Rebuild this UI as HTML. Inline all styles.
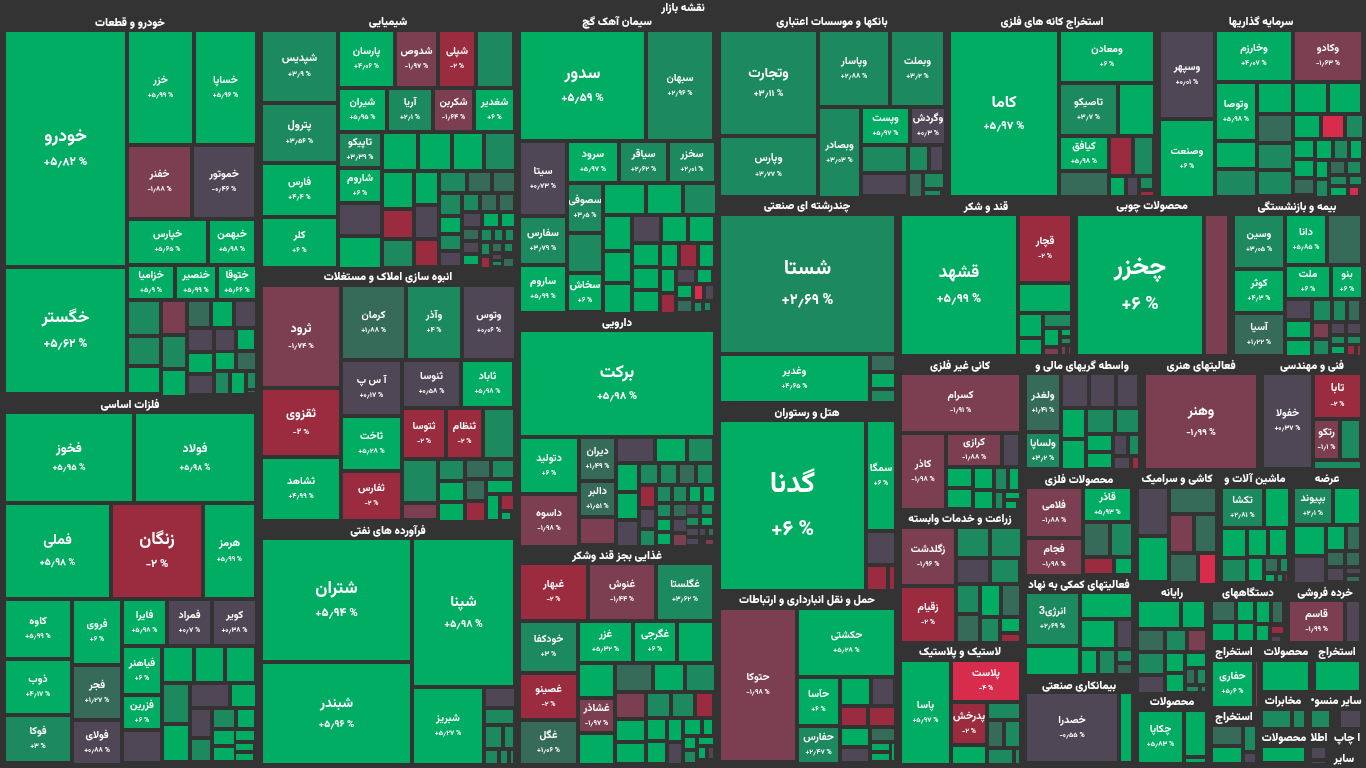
<!DOCTYPE html><html lang="fa"><head><meta charset="utf-8"><title>نقشه بازار</title><style>
html,body{margin:0;padding:0;background:#333333;}
body{width:1366px;height:768px;position:relative;overflow:hidden;font-family:"Vazirmatn", "DejaVu Sans", sans-serif;color:#fff;}
.r{position:absolute;display:flex;flex-direction:column;align-items:center;justify-content:center;overflow:hidden;}
.n{font-weight:700;white-space:nowrap;line-height:1.15;}
.p{font-weight:800;white-space:nowrap;direction:ltr;unicode-bidi:isolate;line-height:1.2;}
.t{position:absolute;font-weight:900;font-size:11px;white-space:nowrap;line-height:1;transform:translate(-50%,-50%);direction:rtl;}

.G6{background:#01ad63;}
.G3{background:#1c895e;}
.G1{background:#356b58;}
.N{background:#4f4755;}
.R1{background:#7c3e51;}
.R2{background:#9b2c40;}
.R4{background:#d72c4c;}
</style></head><body>
<div class="t" style="left:683px;top:8px;font-size:11px">نقشه بازار</div>
<div class="t" style="left:130px;top:22.5px;font-size:11px">خودرو و قطعات</div>
<div class="t" style="left:130px;top:405px;font-size:11px">فلزات اساسی</div>
<div class="t" style="left:388px;top:22px;font-size:11px">شیمیایی</div>
<div class="t" style="left:388px;top:277px;font-size:11px">انبوه سازی املاک و مستغلات</div>
<div class="t" style="left:388px;top:531px;font-size:11px">فرآورده های نفتی</div>
<div class="t" style="left:617px;top:22px;font-size:11px">سیمان آهک گچ</div>
<div class="t" style="left:617px;top:323px;font-size:11px">دارویی</div>
<div class="t" style="left:617px;top:556px;font-size:11px">غذایی بجز قند وشکر</div>
<div class="t" style="left:832px;top:22px;font-size:11px">بانکها و موسسات اعتباری</div>
<div class="t" style="left:807px;top:206.3px;font-size:11px">چندرشته ای صنعتی</div>
<div class="t" style="left:807px;top:413px;font-size:11px">هتل و رستوران</div>
<div class="t" style="left:807px;top:600px;font-size:11px">حمل و نقل انبارداری و ارتباطات</div>
<div class="t" style="left:1052px;top:22px;font-size:11px">استخراج کانه های فلزی</div>
<div class="t" style="left:1261px;top:22px;font-size:11px">سرمایه گذاریها</div>
<div class="t" style="left:986px;top:207px;font-size:11px">قند و شکر</div>
<div class="t" style="left:1152px;top:205.5px;font-size:11px">محصولات چوبی</div>
<div class="t" style="left:1297px;top:207px;font-size:11px">بیمه و بازنشستگی</div>
<div class="t" style="left:960px;top:366px;font-size:11px">کانی غیر فلزی</div>
<div class="t" style="left:1082px;top:366px;font-size:11px">واسطه گریهای مالی و</div>
<div class="t" style="left:1201px;top:366px;font-size:11px">فعالیتهای هنری</div>
<div class="t" style="left:1312px;top:366px;font-size:11px">فنی و مهندسی</div>
<div class="t" style="left:960px;top:519.3px;font-size:11px">زراعت و خدمات وابسته</div>
<div class="t" style="left:960px;top:652px;font-size:11px">لاستیک و پلاستیک</div>
<div class="t" style="left:1079px;top:480px;font-size:11px">محصولات فلزی</div>
<div class="t" style="left:1079px;top:585px;font-size:11px">فعالیتهای کمکی به نهاد</div>
<div class="t" style="left:1079px;top:686px;font-size:11px">بیمانکاری صنعتی</div>
<div class="t" style="left:1177px;top:479px;font-size:11px">کاشی و سرامیک</div>
<div class="t" style="left:1255px;top:479px;font-size:11px">ماشین آلات و</div>
<div class="t" style="left:1327px;top:479px;font-size:11px">عرضه</div>
<div class="t" style="left:1172px;top:593px;font-size:11px">رایانه</div>
<div class="t" style="left:1248px;top:593px;font-size:11px">دستگاههای</div>
<div class="t" style="left:1325px;top:593px;font-size:11px">خرده فروشی</div>
<div class="t" style="left:1172px;top:702px;font-size:11px">محصولات</div>
<div class="t" style="left:1234px;top:652px;font-size:11px">استخراج</div>
<div class="t" style="left:1286px;top:652px;font-size:11px">محصولات</div>
<div class="t" style="left:1337px;top:652px;font-size:11px">استخراج</div>
<div class="t" style="left:1234px;top:717px;font-size:11px">استخراج</div>
<div class="t" style="left:1283px;top:701px;font-size:11px">مخابرات</div>
<div class="t" style="left:1336px;top:701px;font-size:11px">سایر منسو•</div>
<div class="t" style="left:1284px;top:738px;font-size:11px">محصولات</div>
<div class="t" style="left:1319px;top:738px;font-size:11px">اطلا</div>
<div class="t" style="left:1347px;top:738px;font-size:11px">ا چاپ</div>
<div class="t" style="left:1344px;top:759px;font-size:11px">سایر</div>
<div class="r G6" style="left:6px;top:32px;width:119px;height:233px"><div class="n" style="font-size:17.5px">خودرو</div><div class="p" style="font-size:11.5px;margin-top:8.8px">+۵٫۸۲ %</div></div>
<div class="r G6" style="left:6px;top:269px;width:119px;height:123px"><div class="n" style="font-size:17px">خگستر</div><div class="p" style="font-size:12px;margin-top:8.5px">+۵٫۶۲ %</div></div>
<div class="r G6" style="left:129px;top:32px;width:63px;height:111px"><div class="n" style="font-size:10.5px">خزر</div><div class="p" style="font-size:7.1px;margin-top:5.2px">+۵٫۹۹ %</div></div>
<div class="r G6" style="left:196px;top:32px;width:59px;height:111px"><div class="n" style="font-size:10.4px">خساپا</div><div class="p" style="font-size:7px;margin-top:5.2px">+۵٫۹۶ %</div></div>
<div class="r R1" style="left:129px;top:147px;width:61px;height:70px"><div class="n" style="font-size:10.4px">خفنر</div><div class="p" style="font-size:7px;margin-top:5.2px">-۱٫۸۸ %</div></div>
<div class="r N" style="left:194px;top:147px;width:60px;height:70px"><div class="n" style="font-size:10.4px">خموتور</div><div class="p" style="font-size:7px;margin-top:5.2px">-۰٫۴۶ %</div></div>
<div class="r G6" style="left:129px;top:221px;width:77px;height:42px"><div class="n" style="font-size:10.4px">خپارس</div><div class="p" style="font-size:7px;margin-top:5.2px">+۵٫۶۵ %</div></div>
<div class="r G6" style="left:210px;top:221px;width:44px;height:42px"><div class="n" style="font-size:10.4px">خبهمن</div><div class="p" style="font-size:7px;margin-top:5.2px">+۵٫۹۸ %</div></div>
<div class="r G6" style="left:129px;top:267px;width:44px;height:31px"><div class="n" style="font-size:10.4px">خزامیا</div><div class="p" style="font-size:7px;margin-top:5.2px">+۵٫۹ %</div></div>
<div class="r G6" style="left:177px;top:267px;width:38px;height:31px"><div class="n" style="font-size:10.4px">خنصیر</div><div class="p" style="font-size:7px;margin-top:5.2px">+۵٫۹۹ %</div></div>
<div class="r G6" style="left:219px;top:267px;width:36px;height:31px"><div class="n" style="font-size:10.4px">ختوقا</div><div class="p" style="font-size:7px;margin-top:5.2px">+۵٫۶۶ %</div></div>
<div class="r G3" style="left:129px;top:302px;width:30px;height:32px"></div>
<div class="r G3" style="left:129px;top:338px;width:30px;height:26px"></div>
<div class="r G6" style="left:129px;top:368px;width:30px;height:24px"></div>
<div class="r R1" style="left:163px;top:302px;width:22px;height:31px"></div>
<div class="r G3" style="left:163px;top:337px;width:22px;height:30px"></div>
<div class="r G6" style="left:163px;top:371px;width:22px;height:24px"></div>
<div class="r G1" style="left:189px;top:302px;width:20px;height:24px"></div>
<div class="r G6" style="left:213px;top:302px;width:19px;height:24px"></div>
<div class="r N" style="left:236px;top:302px;width:19px;height:24px"></div>
<div class="r N" style="left:189px;top:330px;width:23px;height:20px"></div>
<div class="r N" style="left:216px;top:330px;width:18px;height:20px"></div>
<div class="r G6" style="left:238px;top:330px;width:16px;height:19px"></div>
<div class="r G6" style="left:189px;top:354px;width:23px;height:18px"></div>
<div class="r G6" style="left:216px;top:353px;width:18px;height:16px"></div>
<div class="r G1" style="left:238px;top:353px;width:17px;height:16px"></div>
<div class="r N" style="left:189px;top:376px;width:23px;height:17px"></div>
<div class="r G3" style="left:216px;top:373px;width:12px;height:20px"></div>
<div class="r G6" style="left:232px;top:373px;width:12px;height:20px"></div>
<div class="r G3" style="left:248px;top:373px;width:7px;height:15px"></div>
<div class="r G1" style="left:248px;top:391px;width:7px;height:1px"></div>
<div class="r G6" style="left:6px;top:414px;width:126px;height:87px"><div class="n" style="font-size:13.2px">فخوز</div><div class="p" style="font-size:8.9px;margin-top:6.6px">+۵٫۹۵ %</div></div>
<div class="r G6" style="left:136px;top:414px;width:118px;height:87px"><div class="n" style="font-size:12.4px">فولاد</div><div class="p" style="font-size:8.3px;margin-top:6.2px">+۵٫۹۸ %</div></div>
<div class="r G6" style="left:6px;top:505px;width:103px;height:92px"><div class="n" style="font-size:14.2px">فملی</div><div class="p" style="font-size:9.7px;margin-top:7.1px">+۵٫۹۸ %</div></div>
<div class="r R2" style="left:113px;top:505px;width:88px;height:92px"><div class="n" style="font-size:17.1px">زنگان</div><div class="p" style="font-size:11.2px;margin-top:8.6px">-۲ %</div></div>
<div class="r G6" style="left:205px;top:505px;width:49px;height:92px"><div class="n" style="font-size:10.8px">هرمز</div><div class="p" style="font-size:6.9px;margin-top:5.4px">+۵٫۹۹ %</div></div>
<div class="r G6" style="left:6px;top:601px;width:64px;height:56px"><div class="n" style="font-size:10.4px">کاوه</div><div class="p" style="font-size:7px;margin-top:5.2px">+۵٫۹۹ %</div></div>
<div class="r G6" style="left:74px;top:601px;width:46px;height:62px"><div class="n" style="font-size:10.4px">فروی</div><div class="p" style="font-size:7px;margin-top:5.2px">+۶ %</div></div>
<div class="r G6" style="left:124px;top:601px;width:41px;height:43px"><div class="n" style="font-size:10.4px">فایرا</div><div class="p" style="font-size:7px;margin-top:5.2px">+۵٫۹۸ %</div></div>
<div class="r N" style="left:169px;top:601px;width:41px;height:43px"><div class="n" style="font-size:10.4px">فمراد</div><div class="p" style="font-size:7px;margin-top:5.2px">+۰٫۷ %</div></div>
<div class="r N" style="left:214px;top:601px;width:41px;height:43px"><div class="n" style="font-size:10.4px">کویر</div><div class="p" style="font-size:7px;margin-top:5.2px">+۰٫۳۸ %</div></div>
<div class="r G6" style="left:6px;top:661px;width:64px;height:52px"><div class="n" style="font-size:10.4px">ذوب</div><div class="p" style="font-size:7px;margin-top:5.2px">+۴٫۱۷ %</div></div>
<div class="r G3" style="left:6px;top:717px;width:64px;height:44px"><div class="n" style="font-size:10.4px">فوکا</div><div class="p" style="font-size:7px;margin-top:5.2px">+۳ %</div></div>
<div class="r G1" style="left:74px;top:667px;width:46px;height:51px"><div class="n" style="font-size:10.4px">فجر</div><div class="p" style="font-size:7px;margin-top:5.2px">+۱٫۲۷ %</div></div>
<div class="r N" style="left:74px;top:722px;width:46px;height:41px"><div class="n" style="font-size:10.4px">فولای</div><div class="p" style="font-size:7px;margin-top:5.2px">+۰٫۸۸ %</div></div>
<div class="r G6" style="left:124px;top:648px;width:36px;height:45px"><div class="n" style="font-size:10.4px">فیاهنر</div><div class="p" style="font-size:7px;margin-top:5.2px">+۶ %</div></div>
<div class="r G6" style="left:124px;top:697px;width:36px;height:31px"><div class="n" style="font-size:10.4px">فزرین</div><div class="p" style="font-size:7px;margin-top:5.2px">+۶ %</div></div>
<div class="r N" style="left:124px;top:732px;width:36px;height:29px"></div>
<div class="r G6" style="left:164px;top:648px;width:28px;height:33px"></div>
<div class="r G6" style="left:196px;top:648px;width:27px;height:33px"></div>
<div class="r G6" style="left:227px;top:648px;width:27px;height:33px"></div>
<div class="r G3" style="left:164px;top:685px;width:24px;height:37px"></div>
<div class="r G6" style="left:164px;top:726px;width:24px;height:34px"></div>
<div class="r N" style="left:192px;top:685px;width:36px;height:21px"></div>
<div class="r G6" style="left:232px;top:685px;width:23px;height:21px"></div>
<div class="r N" style="left:192px;top:710px;width:18px;height:26px"></div>
<div class="r G3" style="left:192px;top:740px;width:18px;height:20px"></div>
<div class="r G3" style="left:214px;top:710px;width:20px;height:17px"></div>
<div class="r G6" style="left:238px;top:710px;width:16px;height:17px"></div>
<div class="r G6" style="left:214px;top:731px;width:20px;height:13px"></div>
<div class="r G6" style="left:236px;top:731px;width:18px;height:9px"></div>
<div class="r G6" style="left:214px;top:748px;width:20px;height:12px"></div>
<div class="r G6" style="left:236px;top:744px;width:17px;height:6px"></div>
<div class="r G6" style="left:236px;top:754px;width:17px;height:6px"></div>
<div class="r G3" style="left:263px;top:32px;width:73px;height:69px"><div class="n" style="font-size:10.9px">شپدیس</div><div class="p" style="font-size:7.2px;margin-top:5.5px">+۳٫۹ %</div></div>
<div class="r G3" style="left:263px;top:105px;width:73px;height:56px"><div class="n" style="font-size:11px">پترول</div><div class="p" style="font-size:7.2px;margin-top:5.5px">+۳٫۵۶ %</div></div>
<div class="r G6" style="left:263px;top:165px;width:73px;height:50px"><div class="n" style="font-size:10.4px">فارس</div><div class="p" style="font-size:7px;margin-top:5.2px">+۴٫۴ %</div></div>
<div class="r G6" style="left:263px;top:219px;width:73px;height:47px"><div class="n" style="font-size:10.4px">کلر</div><div class="p" style="font-size:7px;margin-top:5.2px">+۶ %</div></div>
<div class="r G6" style="left:340px;top:32px;width:53px;height:54px"><div class="n" style="font-size:10.4px">پارسان</div><div class="p" style="font-size:7px;margin-top:5.2px">+۴٫۰۶ %</div></div>
<div class="r R1" style="left:397px;top:32px;width:39px;height:54px"><div class="n" style="font-size:10.4px">شدوص</div><div class="p" style="font-size:7px;margin-top:5.2px">-۱٫۹۷ %</div></div>
<div class="r R2" style="left:440px;top:32px;width:34px;height:54px"><div class="n" style="font-size:10.4px">شپلی</div><div class="p" style="font-size:7px;margin-top:5.2px">-۲ %</div></div>
<div class="r G3" style="left:478px;top:32px;width:34px;height:54px"></div>
<div class="r G6" style="left:340px;top:90px;width:45px;height:40px"><div class="n" style="font-size:10.4px">شیران</div><div class="p" style="font-size:7px;margin-top:5.2px">+۵٫۹۵ %</div></div>
<div class="r G3" style="left:389px;top:90px;width:42px;height:40px"><div class="n" style="font-size:10.4px">آریا</div><div class="p" style="font-size:7px;margin-top:5.2px">+۲٫۱ %</div></div>
<div class="r R1" style="left:435px;top:90px;width:37px;height:40px"><div class="n" style="font-size:10.4px">شکربن</div><div class="p" style="font-size:7px;margin-top:5.2px">-۱٫۶۴ %</div></div>
<div class="r G6" style="left:476px;top:90px;width:37px;height:40px"><div class="n" style="font-size:10.4px">شغدیر</div><div class="p" style="font-size:7px;margin-top:5.2px">+۶ %</div></div>
<div class="r G3" style="left:340px;top:134px;width:40px;height:32px"><div class="n" style="font-size:10.4px">تاپیکو</div><div class="p" style="font-size:7px;margin-top:5.2px">+۳٫۳۹ %</div></div>
<div class="r G6" style="left:384px;top:134px;width:32px;height:35px"></div>
<div class="r G6" style="left:420px;top:134px;width:30px;height:35px"></div>
<div class="r G6" style="left:454px;top:134px;width:28px;height:35px"></div>
<div class="r G3" style="left:486px;top:134px;width:28px;height:35px"></div>
<div class="r G6" style="left:340px;top:170px;width:40px;height:31px"><div class="n" style="font-size:10.4px">شاروم</div><div class="p" style="font-size:7px;margin-top:5.2px">+۶ %</div></div>
<div class="r G6" style="left:384px;top:173px;width:28px;height:34px"></div>
<div class="r G6" style="left:416px;top:173px;width:21px;height:30px"></div>
<div class="r G3" style="left:441px;top:173px;width:24px;height:18px"></div>
<div class="r G1" style="left:469px;top:173px;width:21px;height:18px"></div>
<div class="r G1" style="left:494px;top:173px;width:20px;height:18px"></div>
<div class="r N" style="left:340px;top:205px;width:40px;height:29px"></div>
<div class="r G6" style="left:340px;top:238px;width:40px;height:29px"></div>
<div class="r R2" style="left:384px;top:211px;width:28px;height:26px"></div>
<div class="r N" style="left:416px;top:207px;width:21px;height:30px"></div>
<div class="r G3" style="left:384px;top:241px;width:28px;height:25px"></div>
<div class="r R2" style="left:416px;top:241px;width:21px;height:24px"></div>
<div class="r G3" style="left:441px;top:195px;width:19px;height:19px"></div>
<div class="r G3" style="left:464px;top:195px;width:14px;height:15px"></div>
<div class="r G1" style="left:482px;top:195px;width:14px;height:15px"></div>
<div class="r G1" style="left:500px;top:195px;width:13px;height:15px"></div>
<div class="r G6" style="left:441px;top:218px;width:19px;height:14px"></div>
<div class="r N" style="left:464px;top:214px;width:16px;height:12px"></div>
<div class="r G6" style="left:484px;top:214px;width:14px;height:12px"></div>
<div class="r G6" style="left:502px;top:214px;width:12px;height:12px"></div>
<div class="r G3" style="left:441px;top:236px;width:19px;height:13px"></div>
<div class="r G1" style="left:464px;top:230px;width:14px;height:9px"></div>
<div class="r G3" style="left:482px;top:230px;width:9px;height:10px"></div>
<div class="r G3" style="left:495px;top:230px;width:7px;height:10px"></div>
<div class="r G3" style="left:506px;top:230px;width:7px;height:10px"></div>
<div class="r N" style="left:464px;top:243px;width:14px;height:9px"></div>
<div class="r G3" style="left:482px;top:244px;width:7px;height:10px"></div>
<div class="r G1" style="left:493px;top:244px;width:8px;height:7px"></div>
<div class="r G3" style="left:505px;top:244px;width:7px;height:7px"></div>
<div class="r N" style="left:441px;top:253px;width:19px;height:12px"></div>
<div class="r G6" style="left:464px;top:256px;width:14px;height:8px"></div>
<div class="r R2" style="left:482px;top:258px;width:7px;height:9px"></div>
<div class="r N" style="left:493px;top:255px;width:8px;height:4px"></div>
<div class="r G3" style="left:493px;top:262px;width:8px;height:3px"></div>
<div class="r G1" style="left:504px;top:259px;width:9px;height:7px"></div>
<div class="r R1" style="left:263px;top:287px;width:76px;height:99px"><div class="n" style="font-size:12.5px">ثرود</div><div class="p" style="font-size:7.5px;margin-top:6.2px">-۱٫۷۴ %</div></div>
<div class="r R2" style="left:263px;top:390px;width:76px;height:65px"><div class="n" style="font-size:12.4px">ثقزوی</div><div class="p" style="font-size:8.1px;margin-top:6.2px">-۲ %</div></div>
<div class="r G6" style="left:263px;top:459px;width:76px;height:60px"><div class="n" style="font-size:10.4px">ثشاهد</div><div class="p" style="font-size:7px;margin-top:5.2px">+۴٫۹۹ %</div></div>
<div class="r G1" style="left:343px;top:287px;width:61px;height:71px"><div class="n" style="font-size:10.4px">کرمان</div><div class="p" style="font-size:7px;margin-top:5.2px">+۱٫۸۸ %</div></div>
<div class="r G3" style="left:408px;top:287px;width:52px;height:71px"><div class="n" style="font-size:10.4px">وآذر</div><div class="p" style="font-size:7px;margin-top:5.2px">+۴ %</div></div>
<div class="r N" style="left:464px;top:287px;width:50px;height:71px"><div class="n" style="font-size:10.4px">وتوس</div><div class="p" style="font-size:7px;margin-top:5.2px">+۰٫۰۶ %</div></div>
<div class="r N" style="left:343px;top:362px;width:57px;height:52px"><div class="n" style="font-size:10.4px">آ س پ</div><div class="p" style="font-size:7px;margin-top:5.2px">+۰٫۱۷ %</div></div>
<div class="r G6" style="left:343px;top:418px;width:57px;height:51px"><div class="n" style="font-size:10.4px">ثاخت</div><div class="p" style="font-size:7px;margin-top:5.2px">+۵٫۲۸ %</div></div>
<div class="r R2" style="left:343px;top:473px;width:57px;height:46px"><div class="n" style="font-size:10.4px">ثفارس</div><div class="p" style="font-size:7px;margin-top:5.2px">-۲ %</div></div>
<div class="r N" style="left:404px;top:362px;width:55px;height:44px"><div class="n" style="font-size:10.4px">ثنوسا</div><div class="p" style="font-size:7px;margin-top:5.2px">+۰٫۵۸ %</div></div>
<div class="r G6" style="left:463px;top:362px;width:49px;height:44px"><div class="n" style="font-size:10.4px">ثاباد</div><div class="p" style="font-size:7px;margin-top:5.2px">+۵٫۹۸ %</div></div>
<div class="r R2" style="left:404px;top:410px;width:40px;height:47px"><div class="n" style="font-size:10.4px">ثتوسا</div><div class="p" style="font-size:7px;margin-top:5.2px">-۲ %</div></div>
<div class="r R2" style="left:448px;top:410px;width:33px;height:47px"><div class="n" style="font-size:10.4px">ثنظام</div><div class="p" style="font-size:7px;margin-top:5.2px">-۲ %</div></div>
<div class="r G3" style="left:485px;top:410px;width:28px;height:47px"></div>
<div class="r G3" style="left:404px;top:461px;width:32px;height:40px"></div>
<div class="r R1" style="left:404px;top:505px;width:32px;height:13px"></div>
<div class="r G3" style="left:440px;top:461px;width:23px;height:18px"></div>
<div class="r G1" style="left:467px;top:461px;width:22px;height:16px"></div>
<div class="r G3" style="left:493px;top:461px;width:20px;height:16px"></div>
<div class="r G6" style="left:440px;top:483px;width:23px;height:17px"></div>
<div class="r G6" style="left:440px;top:504px;width:23px;height:16px"></div>
<div class="r G1" style="left:467px;top:481px;width:17px;height:18px"></div>
<div class="r R2" style="left:467px;top:503px;width:17px;height:17px"></div>
<div class="r G6" style="left:488px;top:481px;width:24px;height:11px"></div>
<div class="r G6" style="left:488px;top:496px;width:10px;height:23px"></div>
<div class="r R2" style="left:502px;top:496px;width:11px;height:13px"></div>
<div class="r G6" style="left:502px;top:513px;width:8px;height:6px"></div>
<div class="r G6" style="left:263px;top:540px;width:147px;height:120px"><div class="n" style="font-size:17.4px">شتران</div><div class="p" style="font-size:11.5px;margin-top:8.7px">+۵٫۹۴ %</div></div>
<div class="r G6" style="left:263px;top:664px;width:147px;height:99px"><div class="n" style="font-size:13.9px">شبندر</div><div class="p" style="font-size:9.8px;margin-top:7.0px">+۵٫۹۶ %</div></div>
<div class="r G6" style="left:414px;top:540px;width:99px;height:145px"><div class="n" style="font-size:15px">شپنا</div><div class="p" style="font-size:10.4px;margin-top:7.5px">+۵٫۹۸ %</div></div>
<div class="r G6" style="left:414px;top:689px;width:68px;height:74px"><div class="n" style="font-size:10.4px">شبریز</div><div class="p" style="font-size:7px;margin-top:5.2px">+۵٫۲۷ %</div></div>
<div class="r N" style="left:486px;top:689px;width:28px;height:17px"></div>
<div class="r G3" style="left:486px;top:710px;width:27px;height:13px"></div>
<div class="r G3" style="left:486px;top:727px;width:15px;height:20px"></div>
<div class="r G3" style="left:505px;top:727px;width:8px;height:20px"></div>
<div class="r G3" style="left:486px;top:751px;width:11px;height:12px"></div>
<div class="r G3" style="left:501px;top:751px;width:6px;height:12px"></div>
<div class="r G3" style="left:511px;top:751px;width:2px;height:12px"></div>
<div class="r G6" style="left:521px;top:32px;width:123px;height:107px"><div class="n" style="font-size:16.5px">سدور</div><div class="p" style="font-size:11.4px;margin-top:8.2px">+۵٫۵۹ %</div></div>
<div class="r G3" style="left:648px;top:32px;width:64px;height:107px"><div class="n" style="font-size:10.4px">سبهان</div><div class="p" style="font-size:7px;margin-top:5.2px">+۲٫۹۶ %</div></div>
<div class="r N" style="left:521px;top:143px;width:44px;height:71px"><div class="n" style="font-size:10.4px">سیتا</div><div class="p" style="font-size:7px;margin-top:5.2px">+۰٫۷۳ %</div></div>
<div class="r G6" style="left:569px;top:143px;width:48px;height:38px"><div class="n" style="font-size:10.4px">سرود</div><div class="p" style="font-size:7px;margin-top:5.2px">+۵٫۹۷ %</div></div>
<div class="r G3" style="left:621px;top:143px;width:45px;height:38px"><div class="n" style="font-size:10.4px">سیاقر</div><div class="p" style="font-size:7px;margin-top:5.2px">+۲٫۶۲ %</div></div>
<div class="r G3" style="left:670px;top:143px;width:44px;height:38px"><div class="n" style="font-size:10.4px">سخزر</div><div class="p" style="font-size:7px;margin-top:5.2px">+۲٫۰۱ %</div></div>
<div class="r G3" style="left:569px;top:185px;width:32px;height:46px"><div class="n" style="font-size:10.4px">سصوفی</div><div class="p" style="font-size:7px;margin-top:5.2px">+۳٫۵ %</div></div>
<div class="r G6" style="left:605px;top:185px;width:39px;height:28px"></div>
<div class="r G6" style="left:648px;top:185px;width:33px;height:28px"></div>
<div class="r G3" style="left:685px;top:185px;width:30px;height:28px"></div>
<div class="r G3" style="left:521px;top:218px;width:44px;height:45px"><div class="n" style="font-size:10.4px">سفارس</div><div class="p" style="font-size:7px;margin-top:5.2px">+۳٫۷۹ %</div></div>
<div class="r G6" style="left:521px;top:267px;width:44px;height:44px"><div class="n" style="font-size:10.4px">ساروم</div><div class="p" style="font-size:7px;margin-top:5.2px">+۵٫۹۹ %</div></div>
<div class="r G3" style="left:569px;top:235px;width:32px;height:36px"></div>
<div class="r G6" style="left:569px;top:275px;width:32px;height:35px"><div class="n" style="font-size:10.4px">سخاش</div><div class="p" style="font-size:7px;margin-top:5.2px">+۶ %</div></div>
<div class="r G6" style="left:605px;top:217px;width:25px;height:32px"></div>
<div class="r G6" style="left:605px;top:253px;width:25px;height:28px"></div>
<div class="r G6" style="left:605px;top:285px;width:25px;height:27px"></div>
<div class="r N" style="left:634px;top:217px;width:25px;height:24px"></div>
<div class="r G6" style="left:663px;top:217px;width:23px;height:24px"></div>
<div class="r G6" style="left:690px;top:217px;width:23px;height:24px"></div>
<div class="r G6" style="left:634px;top:245px;width:24px;height:20px"></div>
<div class="r G6" style="left:634px;top:269px;width:24px;height:19px"></div>
<div class="r G6" style="left:634px;top:292px;width:24px;height:19px"></div>
<div class="r G6" style="left:662px;top:245px;width:15px;height:21px"></div>
<div class="r R2" style="left:681px;top:245px;width:15px;height:21px"></div>
<div class="r G6" style="left:700px;top:245px;width:13px;height:21px"></div>
<div class="r G6" style="left:662px;top:270px;width:12px;height:21px"></div>
<div class="r N" style="left:678px;top:270px;width:16px;height:12px"></div>
<div class="r G6" style="left:698px;top:270px;width:13px;height:12px"></div>
<div class="r R2" style="left:662px;top:295px;width:12px;height:17px"></div>
<div class="r G6" style="left:678px;top:286px;width:13px;height:11px"></div>
<div class="r R4" style="left:695px;top:286px;width:7px;height:13px"></div>
<div class="r N" style="left:706px;top:286px;width:7px;height:13px"></div>
<div class="r G1" style="left:678px;top:301px;width:13px;height:10px"></div>
<div class="r G3" style="left:695px;top:303px;width:6px;height:8px"></div>
<div class="r G3" style="left:705px;top:303px;width:5px;height:7px"></div>
<div class="r G6" style="left:521px;top:332px;width:192px;height:103px"><div class="n" style="font-size:17.3px">برکت</div><div class="p" style="font-size:10.8px;margin-top:8.7px">+۵٫۹۸ %</div></div>
<div class="r G6" style="left:521px;top:439px;width:56px;height:53px"><div class="n" style="font-size:10.4px">دتولید</div><div class="p" style="font-size:7px;margin-top:5.2px">+۶ %</div></div>
<div class="r R1" style="left:521px;top:496px;width:56px;height:49px"><div class="n" style="font-size:10.4px">داسوه</div><div class="p" style="font-size:7px;margin-top:5.2px">-۱٫۹۸ %</div></div>
<div class="r G1" style="left:581px;top:439px;width:33px;height:40px"><div class="n" style="font-size:10.4px">دیران</div><div class="p" style="font-size:7px;margin-top:5.2px">+۱٫۴۹ %</div></div>
<div class="r G1" style="left:581px;top:483px;width:33px;height:32px"><div class="n" style="font-size:10.4px">دالبر</div><div class="p" style="font-size:7px;margin-top:5.2px">+۱٫۵۱ %</div></div>
<div class="r R1" style="left:581px;top:519px;width:33px;height:24px"></div>
<div class="r N" style="left:618px;top:439px;width:35px;height:22px"></div>
<div class="r G6" style="left:657px;top:439px;width:28px;height:22px"></div>
<div class="r G3" style="left:689px;top:439px;width:23px;height:22px"></div>
<div class="r G6" style="left:618px;top:465px;width:19px;height:25px"></div>
<div class="r G6" style="left:618px;top:494px;width:19px;height:24px"></div>
<div class="r N" style="left:618px;top:522px;width:19px;height:23px"></div>
<div class="r G3" style="left:641px;top:465px;width:16px;height:18px"></div>
<div class="r G3" style="left:661px;top:465px;width:15px;height:18px"></div>
<div class="r G1" style="left:680px;top:465px;width:14px;height:18px"></div>
<div class="r G3" style="left:698px;top:465px;width:14px;height:18px"></div>
<div class="r R2" style="left:641px;top:487px;width:13px;height:19px"></div>
<div class="r G3" style="left:658px;top:487px;width:12px;height:14px"></div>
<div class="r G3" style="left:674px;top:487px;width:12px;height:14px"></div>
<div class="r G6" style="left:690px;top:487px;width:10px;height:14px"></div>
<div class="r G6" style="left:704px;top:487px;width:10px;height:14px"></div>
<div class="r N" style="left:641px;top:510px;width:13px;height:17px"></div>
<div class="r G3" style="left:641px;top:531px;width:13px;height:14px"></div>
<div class="r G3" style="left:658px;top:505px;width:12px;height:11px"></div>
<div class="r G1" style="left:674px;top:505px;width:12px;height:11px"></div>
<div class="r N" style="left:687px;top:505px;width:11px;height:9px"></div>
<div class="r G3" style="left:702px;top:505px;width:10px;height:9px"></div>
<div class="r G6" style="left:658px;top:520px;width:12px;height:10px"></div>
<div class="r N" style="left:674px;top:520px;width:12px;height:11px"></div>
<div class="r G3" style="left:687px;top:518px;width:11px;height:7px"></div>
<div class="r G6" style="left:702px;top:518px;width:10px;height:7px"></div>
<div class="r G6" style="left:658px;top:534px;width:12px;height:10px"></div>
<div class="r R1" style="left:674px;top:535px;width:12px;height:10px"></div>
<div class="r N" style="left:687px;top:529px;width:11px;height:6px"></div>
<div class="r N" style="left:700px;top:529px;width:5px;height:6px"></div>
<div class="r G1" style="left:709px;top:529px;width:4px;height:6px"></div>
<div class="r N" style="left:687px;top:539px;width:11px;height:5px"></div>
<div class="r R1" style="left:706px;top:540px;width:7px;height:4px"></div>
<div class="r R2" style="left:521px;top:565px;width:65px;height:54px"><div class="n" style="font-size:10.4px">غبهار</div><div class="p" style="font-size:7px;margin-top:5.2px">-۲ %</div></div>
<div class="r R1" style="left:590px;top:565px;width:64px;height:54px"><div class="n" style="font-size:10.4px">غنوش</div><div class="p" style="font-size:7px;margin-top:5.2px">-۱٫۴۴ %</div></div>
<div class="r G3" style="left:658px;top:565px;width:54px;height:54px"><div class="n" style="font-size:10.4px">غگلستا</div><div class="p" style="font-size:7px;margin-top:5.2px">+۳٫۶۲ %</div></div>
<div class="r G3" style="left:521px;top:623px;width:55px;height:48px"><div class="n" style="font-size:10.4px">خودکفا</div><div class="p" style="font-size:7px;margin-top:5.2px">+۳ %</div></div>
<div class="r R2" style="left:521px;top:675px;width:55px;height:43px"><div class="n" style="font-size:10.4px">غصینو</div><div class="p" style="font-size:7px;margin-top:5.2px">-۲ %</div></div>
<div class="r G1" style="left:521px;top:722px;width:55px;height:41px"><div class="n" style="font-size:10.4px">غگل</div><div class="p" style="font-size:7px;margin-top:5.2px">+۱٫۰۶ %</div></div>
<div class="r G6" style="left:580px;top:623px;width:51px;height:38px"><div class="n" style="font-size:10.4px">غزر</div><div class="p" style="font-size:7px;margin-top:5.2px">+۵٫۳۲ %</div></div>
<div class="r G6" style="left:635px;top:623px;width:40px;height:38px"><div class="n" style="font-size:10.4px">غگرجی</div><div class="p" style="font-size:7px;margin-top:5.2px">+۶ %</div></div>
<div class="r G6" style="left:679px;top:623px;width:33px;height:38px"></div>
<div class="r G6" style="left:580px;top:665px;width:33px;height:31px"></div>
<div class="r R1" style="left:580px;top:700px;width:33px;height:31px"><div class="n" style="font-size:10.4px">غشاذر</div><div class="p" style="font-size:7px;margin-top:5.2px">-۱٫۹۷ %</div></div>
<div class="r G6" style="left:580px;top:735px;width:33px;height:28px"></div>
<div class="r G1" style="left:617px;top:665px;width:34px;height:25px"></div>
<div class="r G6" style="left:655px;top:665px;width:28px;height:25px"></div>
<div class="r G3" style="left:687px;top:665px;width:27px;height:25px"></div>
<div class="r R1" style="left:617px;top:694px;width:27px;height:23px"></div>
<div class="r G3" style="left:648px;top:694px;width:21px;height:22px"></div>
<div class="r G3" style="left:673px;top:694px;width:20px;height:22px"></div>
<div class="r R2" style="left:697px;top:694px;width:15px;height:22px"></div>
<div class="r G6" style="left:617px;top:721px;width:27px;height:19px"></div>
<div class="r G6" style="left:648px;top:720px;width:17px;height:19px"></div>
<div class="r G6" style="left:669px;top:720px;width:12px;height:20px"></div>
<div class="r G6" style="left:685px;top:720px;width:15px;height:14px"></div>
<div class="r G6" style="left:704px;top:720px;width:8px;height:14px"></div>
<div class="r G6" style="left:617px;top:744px;width:27px;height:18px"></div>
<div class="r G6" style="left:648px;top:743px;width:17px;height:19px"></div>
<div class="r N" style="left:669px;top:744px;width:12px;height:19px"></div>
<div class="r G6" style="left:685px;top:738px;width:10px;height:10px"></div>
<div class="r G6" style="left:699px;top:738px;width:14px;height:6px"></div>
<div class="r G3" style="left:685px;top:752px;width:10px;height:10px"></div>
<div class="r G6" style="left:699px;top:748px;width:6px;height:10px"></div>
<div class="r N" style="left:709px;top:748px;width:4px;height:10px"></div>
<div class="r G3" style="left:721px;top:32px;width:95px;height:102px"><div class="n" style="font-size:13.9px">وتجارت</div><div class="p" style="font-size:9.0px;margin-top:7.0px">+۳٫۱۱ %</div></div>
<div class="r G3" style="left:721px;top:138px;width:95px;height:57px"><div class="n" style="font-size:11px">وپارس</div><div class="p" style="font-size:6.8px;margin-top:5.5px">+۳٫۷۷ %</div></div>
<div class="r G3" style="left:820px;top:32px;width:68px;height:73px"><div class="n" style="font-size:10.4px">وپاسار</div><div class="p" style="font-size:7px;margin-top:5.2px">+۲٫۸۸ %</div></div>
<div class="r G3" style="left:892px;top:32px;width:51px;height:73px"><div class="n" style="font-size:10.4px">وبملت</div><div class="p" style="font-size:7px;margin-top:5.2px">+۳٫۲ %</div></div>
<div class="r G3" style="left:820px;top:109px;width:39px;height:87px"><div class="n" style="font-size:10.4px">وبصادر</div><div class="p" style="font-size:7px;margin-top:5.2px">+۳٫۰۳ %</div></div>
<div class="r G6" style="left:863px;top:109px;width:45px;height:34px"><div class="n" style="font-size:10.4px">وپست</div><div class="p" style="font-size:7px;margin-top:5.2px">+۵٫۹۷ %</div></div>
<div class="r N" style="left:912px;top:109px;width:32px;height:34px"><div class="n" style="font-size:10.4px">وگردش</div><div class="p" style="font-size:7px;margin-top:5.2px">+۰٫۳ %</div></div>
<div class="r G3" style="left:863px;top:147px;width:43px;height:24px"></div>
<div class="r G3" style="left:910px;top:147px;width:17px;height:23px"></div>
<div class="r N" style="left:931px;top:147px;width:11px;height:23px"></div>
<div class="r N" style="left:863px;top:175px;width:43px;height:19px"></div>
<div class="r G1" style="left:910px;top:174px;width:11px;height:22px"></div>
<div class="r G3" style="left:925px;top:174px;width:18px;height:13px"></div>
<div class="r G3" style="left:925px;top:191px;width:15px;height:4px"></div>
<div class="r G3" style="left:721px;top:216px;width:173px;height:136px"><div class="n" style="font-size:20.7px">شستا</div><div class="p" style="font-size:14.6px;margin-top:10.3px">+۲٫۶۹ %</div></div>
<div class="r G6" style="left:721px;top:356px;width:147px;height:45px"><div class="n" style="font-size:10.4px">وغدیر</div><div class="p" style="font-size:7px;margin-top:5.2px">+۴٫۶۵ %</div></div>
<div class="r G1" style="left:872px;top:356px;width:22px;height:14px"></div>
<div class="r G6" style="left:872px;top:374px;width:22px;height:13px"></div>
<div class="r G3" style="left:872px;top:391px;width:22px;height:10px"></div>
<div class="r G6" style="left:721px;top:422px;width:143px;height:167px"><div class="n" style="font-size:29px">گدنا</div><div class="p" style="font-size:21px;margin-top:14.5px">+۶ %</div></div>
<div class="r G6" style="left:868px;top:422px;width:26px;height:107px"><div class="n" style="font-size:10.4px">سمگا</div><div class="p" style="font-size:7px;margin-top:5.2px">+۶ %</div></div>
<div class="r N" style="left:868px;top:533px;width:26px;height:30px"></div>
<div class="r R2" style="left:868px;top:567px;width:18px;height:22px"></div>
<div class="r R2" style="left:890px;top:567px;width:4px;height:22px"></div>
<div class="r R1" style="left:721px;top:610px;width:74px;height:150px"><div class="n" style="font-size:10.4px">حتوکا</div><div class="p" style="font-size:7px;margin-top:5.2px">-۱٫۹۸ %</div></div>
<div class="r G6" style="left:799px;top:610px;width:95px;height:65px"><div class="n" style="font-size:10.4px">حکشتی</div><div class="p" style="font-size:7px;margin-top:5.2px">+۵٫۲۸ %</div></div>
<div class="r G6" style="left:799px;top:679px;width:39px;height:45px"><div class="n" style="font-size:10.4px">حآسا</div><div class="p" style="font-size:7px;margin-top:5.2px">+۶ %</div></div>
<div class="r G3" style="left:799px;top:728px;width:39px;height:34px"><div class="n" style="font-size:10.4px">حفارس</div><div class="p" style="font-size:7px;margin-top:5.2px">+۲٫۴۷ %</div></div>
<div class="r G6" style="left:842px;top:679px;width:27px;height:25px"></div>
<div class="r N" style="left:873px;top:679px;width:20px;height:25px"></div>
<div class="r R2" style="left:842px;top:708px;width:24px;height:17px"></div>
<div class="r R2" style="left:870px;top:708px;width:24px;height:17px"></div>
<div class="r G6" style="left:842px;top:729px;width:26px;height:16px"></div>
<div class="r N" style="left:842px;top:749px;width:26px;height:12px"></div>
<div class="r G1" style="left:872px;top:729px;width:22px;height:11px"></div>
<div class="r G6" style="left:872px;top:744px;width:17px;height:6px"></div>
<div class="r G6" style="left:872px;top:754px;width:17px;height:6px"></div>
<div class="r G6" style="left:892px;top:744px;width:2px;height:16px"></div>
<div class="r G6" style="left:951px;top:32px;width:106px;height:163px"><div class="n" style="font-size:16.2px">کاما</div><div class="p" style="font-size:11px;margin-top:8.1px">+۵٫۹۷ %</div></div>
<div class="r G6" style="left:1061px;top:32px;width:92px;height:49px"><div class="n" style="font-size:10.4px">ومعادن</div><div class="p" style="font-size:7px;margin-top:5.2px">+۶ %</div></div>
<div class="r G3" style="left:1061px;top:85px;width:55px;height:49px"><div class="n" style="font-size:10.4px">تاصیکو</div><div class="p" style="font-size:7px;margin-top:5.2px">+۳٫۷ %</div></div>
<div class="r G6" style="left:1120px;top:85px;width:33px;height:49px"></div>
<div class="r G6" style="left:1061px;top:138px;width:46px;height:31px"><div class="n" style="font-size:10.4px">کیافق</div><div class="p" style="font-size:7px;margin-top:5.2px">+۵٫۹۸ %</div></div>
<div class="r G1" style="left:1061px;top:173px;width:46px;height:22px"></div>
<div class="r R2" style="left:1111px;top:138px;width:20px;height:36px"></div>
<div class="r G3" style="left:1135px;top:138px;width:17px;height:36px"></div>
<div class="r G6" style="left:1111px;top:178px;width:13px;height:17px"></div>
<div class="r N" style="left:1128px;top:178px;width:9px;height:17px"></div>
<div class="r G3" style="left:1141px;top:178px;width:11px;height:10px"></div>
<div class="r R2" style="left:1141px;top:192px;width:12px;height:3px"></div>
<div class="r N" style="left:1161px;top:32px;width:52px;height:85px"><div class="n" style="font-size:10.4px">وسپهر</div><div class="p" style="font-size:7px;margin-top:5.2px">+۰٫۰۱ %</div></div>
<div class="r G6" style="left:1161px;top:121px;width:52px;height:75px"><div class="n" style="font-size:10.4px">وصنعت</div><div class="p" style="font-size:7px;margin-top:5.2px">+۶ %</div></div>
<div class="r G6" style="left:1217px;top:32px;width:74px;height:48px"><div class="n" style="font-size:10.4px">وخارزم</div><div class="p" style="font-size:7px;margin-top:5.2px">+۴٫۰۷ %</div></div>
<div class="r R1" style="left:1295px;top:32px;width:66px;height:48px"><div class="n" style="font-size:10.4px">وکادو</div><div class="p" style="font-size:7px;margin-top:5.2px">-۱٫۶۳ %</div></div>
<div class="r G6" style="left:1217px;top:84px;width:38px;height:55px"><div class="n" style="font-size:10.4px">وتوصا</div><div class="p" style="font-size:7px;margin-top:5.2px">+۵٫۹۸ %</div></div>
<div class="r G6" style="left:1217px;top:143px;width:38px;height:24px"></div>
<div class="r G3" style="left:1217px;top:171px;width:38px;height:24px"></div>
<div class="r G6" style="left:1259px;top:84px;width:32px;height:28px"></div>
<div class="r G6" style="left:1295px;top:84px;width:31px;height:28px"></div>
<div class="r G6" style="left:1330px;top:84px;width:30px;height:28px"></div>
<div class="r G1" style="left:1259px;top:116px;width:32px;height:25px"></div>
<div class="r G3" style="left:1259px;top:145px;width:32px;height:23px"></div>
<div class="r G3" style="left:1259px;top:172px;width:32px;height:22px"></div>
<div class="r G6" style="left:1295px;top:116px;width:24px;height:21px"></div>
<div class="r R4" style="left:1323px;top:116px;width:20px;height:21px"></div>
<div class="r G3" style="left:1347px;top:116px;width:15px;height:21px"></div>
<div class="r G6" style="left:1295px;top:141px;width:18px;height:16px"></div>
<div class="r G6" style="left:1317px;top:141px;width:14px;height:17px"></div>
<div class="r G3" style="left:1335px;top:141px;width:12px;height:17px"></div>
<div class="r G6" style="left:1351px;top:141px;width:10px;height:17px"></div>
<div class="r G6" style="left:1295px;top:161px;width:18px;height:15px"></div>
<div class="r G6" style="left:1317px;top:162px;width:10px;height:15px"></div>
<div class="r G1" style="left:1331px;top:162px;width:13px;height:11px"></div>
<div class="r G3" style="left:1348px;top:162px;width:12px;height:11px"></div>
<div class="r G1" style="left:1295px;top:180px;width:18px;height:13px"></div>
<div class="r G3" style="left:1317px;top:181px;width:10px;height:15px"></div>
<div class="r G3" style="left:1331px;top:177px;width:15px;height:7px"></div>
<div class="r G3" style="left:1350px;top:177px;width:11px;height:7px"></div>
<div class="r G6" style="left:1331px;top:188px;width:15px;height:7px"></div>
<div class="r R4" style="left:1350px;top:188px;width:8px;height:7px"></div>
<div class="r G6" style="left:902px;top:216px;width:114px;height:138px"><div class="n" style="font-size:17.2px">قشهد</div><div class="p" style="font-size:12.3px;margin-top:8.6px">+۵٫۹۹ %</div></div>
<div class="r R2" style="left:1020px;top:216px;width:50px;height:65px"><div class="n" style="font-size:10.4px">قچار</div><div class="p" style="font-size:7px;margin-top:5.2px">-۲ %</div></div>
<div class="r G6" style="left:1020px;top:285px;width:50px;height:26px"></div>
<div class="r G6" style="left:1020px;top:315px;width:21px;height:21px"></div>
<div class="r G6" style="left:1020px;top:340px;width:21px;height:14px"></div>
<div class="r G3" style="left:1045px;top:315px;width:25px;height:11px"></div>
<div class="r G6" style="left:1045px;top:330px;width:13px;height:15px"></div>
<div class="r G6" style="left:1062px;top:330px;width:8px;height:5px"></div>
<div class="r G3" style="left:1062px;top:339px;width:8px;height:4px"></div>
<div class="r R1" style="left:1045px;top:349px;width:13px;height:5px"></div>
<div class="r R1" style="left:1062px;top:347px;width:3px;height:7px"></div>
<div class="r R1" style="left:1069px;top:347px;width:1px;height:7px"></div>
<div class="r G6" style="left:1078px;top:216px;width:124px;height:138px"><div class="n" style="font-size:24.8px">چخزر</div><div class="p" style="font-size:18px;margin-top:12.4px">+۶ %</div></div>
<div class="r R1" style="left:1206px;top:216px;width:21px;height:138px"></div>
<div class="r G3" style="left:1235px;top:216px;width:48px;height:51px"><div class="n" style="font-size:10.4px">وسین</div><div class="p" style="font-size:7px;margin-top:5.2px">+۳٫۰۵ %</div></div>
<div class="r G6" style="left:1235px;top:271px;width:48px;height:40px"><div class="n" style="font-size:10.4px">کوثر</div><div class="p" style="font-size:7px;margin-top:5.2px">+۴٫۳ %</div></div>
<div class="r G1" style="left:1235px;top:315px;width:48px;height:39px"><div class="n" style="font-size:10.4px">آسیا</div><div class="p" style="font-size:7px;margin-top:5.2px">+۱٫۲۲ %</div></div>
<div class="r G6" style="left:1287px;top:216px;width:38px;height:47px"><div class="n" style="font-size:10.4px">دانا</div><div class="p" style="font-size:7px;margin-top:5.2px">+۵٫۸۵ %</div></div>
<div class="r G1" style="left:1329px;top:216px;width:31px;height:47px"></div>
<div class="r G6" style="left:1287px;top:267px;width:42px;height:30px"><div class="n" style="font-size:10.4px">ملت</div><div class="p" style="font-size:7px;margin-top:5.2px">+۶ %</div></div>
<div class="r G6" style="left:1333px;top:267px;width:28px;height:30px"><div class="n" style="font-size:10.4px">بنو</div><div class="p" style="font-size:7px;margin-top:5.2px">+۶ %</div></div>
<div class="r N" style="left:1287px;top:301px;width:23px;height:17px"></div>
<div class="r G3" style="left:1314px;top:301px;width:16px;height:19px"></div>
<div class="r G3" style="left:1334px;top:301px;width:11px;height:19px"></div>
<div class="r G1" style="left:1349px;top:301px;width:10px;height:19px"></div>
<div class="r G6" style="left:1287px;top:322px;width:23px;height:15px"></div>
<div class="r R1" style="left:1314px;top:324px;width:14px;height:13px"></div>
<div class="r N" style="left:1332px;top:324px;width:12px;height:9px"></div>
<div class="r N" style="left:1348px;top:324px;width:12px;height:9px"></div>
<div class="r G6" style="left:1287px;top:341px;width:23px;height:14px"></div>
<div class="r G3" style="left:1314px;top:341px;width:14px;height:13px"></div>
<div class="r G3" style="left:1332px;top:337px;width:12px;height:6px"></div>
<div class="r G3" style="left:1348px;top:337px;width:12px;height:6px"></div>
<div class="r G6" style="left:1332px;top:347px;width:12px;height:6px"></div>
<div class="r R2" style="left:1348px;top:346px;width:6px;height:8px"></div>
<div class="r R2" style="left:1358px;top:346px;width:2px;height:9px"></div>
<div class="r R1" style="left:902px;top:375px;width:117px;height:56px"><div class="n" style="font-size:10.4px">کسرام</div><div class="p" style="font-size:7px;margin-top:5.2px">-۱٫۹۱ %</div></div>
<div class="r R1" style="left:902px;top:435px;width:42px;height:73px"><div class="n" style="font-size:10.4px">کاذر</div><div class="p" style="font-size:7px;margin-top:5.2px">-۱٫۹۸ %</div></div>
<div class="r R1" style="left:948px;top:435px;width:52px;height:30px"><div class="n" style="font-size:10.4px">کرازی</div><div class="p" style="font-size:7px;margin-top:5.2px">-۱٫۸۸ %</div></div>
<div class="r N" style="left:1004px;top:435px;width:14px;height:30px"></div>
<div class="r G6" style="left:948px;top:469px;width:23px;height:17px"></div>
<div class="r G6" style="left:975px;top:469px;width:17px;height:19px"></div>
<div class="r G3" style="left:996px;top:469px;width:10px;height:20px"></div>
<div class="r G6" style="left:1010px;top:469px;width:8px;height:20px"></div>
<div class="r G6" style="left:948px;top:490px;width:23px;height:17px"></div>
<div class="r G6" style="left:975px;top:492px;width:17px;height:16px"></div>
<div class="r G3" style="left:996px;top:493px;width:6px;height:15px"></div>
<div class="r G6" style="left:1006px;top:493px;width:13px;height:5px"></div>
<div class="r G6" style="left:1006px;top:502px;width:10px;height:6px"></div>
<div class="r G1" style="left:1027px;top:375px;width:32px;height:55px"><div class="n" style="font-size:10.4px">ولغدر</div><div class="p" style="font-size:7px;margin-top:5.2px">+۱٫۴۱ %</div></div>
<div class="r G3" style="left:1027px;top:434px;width:32px;height:33px"><div class="n" style="font-size:10.4px">ولساپا</div><div class="p" style="font-size:7px;margin-top:5.2px">+۳٫۲ %</div></div>
<div class="r N" style="left:1063px;top:375px;width:24px;height:31px"></div>
<div class="r N" style="left:1091px;top:375px;width:23px;height:31px"></div>
<div class="r N" style="left:1118px;top:375px;width:19px;height:31px"></div>
<div class="r G6" style="left:1063px;top:410px;width:21px;height:27px"></div>
<div class="r G3" style="left:1088px;top:410px;width:25px;height:22px"></div>
<div class="r G3" style="left:1117px;top:410px;width:21px;height:22px"></div>
<div class="r G6" style="left:1063px;top:441px;width:21px;height:27px"></div>
<div class="r G6" style="left:1088px;top:436px;width:23px;height:14px"></div>
<div class="r G6" style="left:1088px;top:454px;width:23px;height:13px"></div>
<div class="r N" style="left:1115px;top:436px;width:11px;height:18px"></div>
<div class="r G3" style="left:1130px;top:436px;width:8px;height:18px"></div>
<div class="r N" style="left:1115px;top:458px;width:14px;height:10px"></div>
<div class="r R2" style="left:1133px;top:458px;width:5px;height:10px"></div>
<div class="r R1" style="left:1146px;top:375px;width:110px;height:93px"><div class="n" style="font-size:14px">وهنر</div><div class="p" style="font-size:9.2px;margin-top:7.0px">-۱٫۹۹ %</div></div>
<div class="r N" style="left:1264px;top:375px;width:47px;height:92px"><div class="n" style="font-size:10.4px">خفولا</div><div class="p" style="font-size:7px;margin-top:5.2px">+۰٫۳۷ %</div></div>
<div class="r R2" style="left:1315px;top:375px;width:45px;height:42px"><div class="n" style="font-size:11.3px">تابا</div><div class="p" style="font-size:7px;margin-top:5.7px">-۲ %</div></div>
<div class="r R1" style="left:1315px;top:421px;width:23px;height:37px"><div class="n" style="font-size:10.4px">رتکو</div><div class="p" style="font-size:7px;margin-top:5.2px">-۱٫۱ %</div></div>
<div class="r G3" style="left:1342px;top:421px;width:17px;height:37px"></div>
<div class="r G3" style="left:1315px;top:462px;width:45px;height:6px"></div>
<div class="r R1" style="left:902px;top:529px;width:52px;height:55px"><div class="n" style="font-size:10.4px">زگلدشت</div><div class="p" style="font-size:7px;margin-top:5.2px">-۱٫۹۶ %</div></div>
<div class="r G3" style="left:958px;top:529px;width:30px;height:27px"></div>
<div class="r G3" style="left:992px;top:529px;width:28px;height:27px"></div>
<div class="r N" style="left:958px;top:560px;width:30px;height:22px"></div>
<div class="r G3" style="left:992px;top:560px;width:26px;height:22px"></div>
<div class="r R2" style="left:902px;top:588px;width:52px;height:53px"><div class="n" style="font-size:10.4px">زقیام</div><div class="p" style="font-size:7px;margin-top:5.2px">-۲ %</div></div>
<div class="r G3" style="left:958px;top:586px;width:20px;height:26px"></div>
<div class="r G6" style="left:982px;top:586px;width:17px;height:29px"></div>
<div class="r G1" style="left:1003px;top:586px;width:16px;height:29px"></div>
<div class="r G1" style="left:958px;top:616px;width:20px;height:25px"></div>
<div class="r G3" style="left:982px;top:619px;width:16px;height:22px"></div>
<div class="r G6" style="left:1002px;top:619px;width:17px;height:12px"></div>
<div class="r R2" style="left:1002px;top:635px;width:17px;height:6px"></div>
<div class="r G6" style="left:902px;top:662px;width:47px;height:101px"><div class="n" style="font-size:10.4px">پاسا</div><div class="p" style="font-size:7px;margin-top:5.2px">+۵٫۹۷ %</div></div>
<div class="r R4" style="left:953px;top:662px;width:66px;height:38px"><div class="n" style="font-size:10.4px">پلاست</div><div class="p" style="font-size:7px;margin-top:5.2px">-۴ %</div></div>
<div class="r R2" style="left:953px;top:704px;width:32px;height:39px"><div class="n" style="font-size:10.4px">پدرخش</div><div class="p" style="font-size:7px;margin-top:5.2px">-۲ %</div></div>
<div class="r G6" style="left:953px;top:747px;width:32px;height:16px"></div>
<div class="r G3" style="left:989px;top:704px;width:30px;height:14px"></div>
<div class="r G1" style="left:989px;top:722px;width:13px;height:24px"></div>
<div class="r G3" style="left:1006px;top:722px;width:13px;height:24px"></div>
<div class="r G3" style="left:989px;top:750px;width:23px;height:13px"></div>
<div class="r G3" style="left:1016px;top:750px;width:3px;height:13px"></div>
<div class="r R1" style="left:1027px;top:489px;width:54px;height:47px"><div class="n" style="font-size:10.4px">فلامی</div><div class="p" style="font-size:7px;margin-top:5.2px">-۱٫۸۸ %</div></div>
<div class="r R1" style="left:1027px;top:540px;width:54px;height:34px"><div class="n" style="font-size:10.4px">فجام</div><div class="p" style="font-size:7px;margin-top:5.2px">-۱٫۹۸ %</div></div>
<div class="r G6" style="left:1085px;top:489px;width:45px;height:31px"><div class="n" style="font-size:10.4px">قاذر</div><div class="p" style="font-size:7px;margin-top:5.2px">+۵٫۹۳ %</div></div>
<div class="r G1" style="left:1085px;top:524px;width:23px;height:31px"></div>
<div class="r G3" style="left:1112px;top:524px;width:19px;height:31px"></div>
<div class="r R2" style="left:1085px;top:559px;width:27px;height:14px"></div>
<div class="r G6" style="left:1116px;top:559px;width:15px;height:14px"></div>
<div class="r G3" style="left:1027px;top:594px;width:51px;height:50px"><div class="n" style="font-size:10.4px">انرژی3</div><div class="p" style="font-size:7px;margin-top:5.2px">+۲٫۶۹ %</div></div>
<div class="r G6" style="left:1082px;top:594px;width:49px;height:23px"></div>
<div class="r G6" style="left:1082px;top:621px;width:32px;height:26px"></div>
<div class="r N" style="left:1118px;top:621px;width:13px;height:26px"></div>
<div class="r G6" style="left:1027px;top:648px;width:51px;height:26px"></div>
<div class="r G6" style="left:1082px;top:651px;width:14px;height:22px"></div>
<div class="r G3" style="left:1100px;top:651px;width:14px;height:22px"></div>
<div class="r G3" style="left:1118px;top:651px;width:13px;height:10px"></div>
<div class="r G1" style="left:1118px;top:665px;width:13px;height:8px"></div>
<div class="r N" style="left:1027px;top:694px;width:90px;height:67px"><div class="n" style="font-size:10.4px">خصدرا</div><div class="p" style="font-size:7px;margin-top:5.2px">-۰٫۵۵ %</div></div>
<div class="r G6" style="left:1121px;top:694px;width:10px;height:67px"></div>
<div class="r N" style="left:1139px;top:489px;width:28px;height:45px"></div>
<div class="r G1" style="left:1171px;top:489px;width:44px;height:23px"></div>
<div class="r G6" style="left:1139px;top:538px;width:28px;height:42px"></div>
<div class="r R1" style="left:1171px;top:516px;width:21px;height:35px"></div>
<div class="r G1" style="left:1196px;top:516px;width:19px;height:35px"></div>
<div class="r G1" style="left:1171px;top:555px;width:25px;height:26px"></div>
<div class="r R4" style="left:1200px;top:555px;width:15px;height:28px"></div>
<div class="r G3" style="left:1223px;top:489px;width:39px;height:37px"><div class="n" style="font-size:10.4px">تکشا</div><div class="p" style="font-size:7px;margin-top:5.2px">+۲٫۸۱ %</div></div>
<div class="r G6" style="left:1266px;top:489px;width:22px;height:37px"></div>
<div class="r G6" style="left:1223px;top:530px;width:22px;height:26px"></div>
<div class="r G6" style="left:1249px;top:530px;width:17px;height:25px"></div>
<div class="r G6" style="left:1270px;top:530px;width:16px;height:25px"></div>
<div class="r G3" style="left:1223px;top:560px;width:22px;height:21px"></div>
<div class="r G6" style="left:1249px;top:559px;width:13px;height:21px"></div>
<div class="r G1" style="left:1266px;top:559px;width:11px;height:12px"></div>
<div class="r G3" style="left:1281px;top:559px;width:6px;height:12px"></div>
<div class="r G6" style="left:1266px;top:575px;width:8px;height:6px"></div>
<div class="r G3" style="left:1278px;top:575px;width:4px;height:6px"></div>
<div class="r R2" style="left:1286px;top:575px;width:1px;height:6px"></div>
<div class="r G3" style="left:1295px;top:489px;width:36px;height:34px"><div class="n" style="font-size:10.4px">بپیوند</div><div class="p" style="font-size:7px;margin-top:5.2px">+۲٫۱ %</div></div>
<div class="r G6" style="left:1335px;top:489px;width:24px;height:34px"></div>
<div class="r G6" style="left:1295px;top:527px;width:29px;height:27px"></div>
<div class="r G6" style="left:1328px;top:527px;width:16px;height:22px"></div>
<div class="r G1" style="left:1348px;top:527px;width:11px;height:22px"></div>
<div class="r N" style="left:1295px;top:558px;width:29px;height:24px"></div>
<div class="r G1" style="left:1328px;top:553px;width:15px;height:12px"></div>
<div class="r G1" style="left:1347px;top:553px;width:12px;height:12px"></div>
<div class="r N" style="left:1328px;top:569px;width:15px;height:11px"></div>
<div class="r N" style="left:1347px;top:569px;width:13px;height:4px"></div>
<div class="r G1" style="left:1347px;top:577px;width:12px;height:4px"></div>
<div class="r G6" style="left:1139px;top:602px;width:40px;height:25px"></div>
<div class="r G6" style="left:1183px;top:602px;width:21px;height:25px"></div>
<div class="r G1" style="left:1139px;top:631px;width:24px;height:19px"></div>
<div class="r G3" style="left:1167px;top:631px;width:18px;height:19px"></div>
<div class="r R1" style="left:1189px;top:631px;width:16px;height:19px"></div>
<div class="r G3" style="left:1139px;top:654px;width:24px;height:19px"></div>
<div class="r G6" style="left:1167px;top:654px;width:16px;height:17px"></div>
<div class="r G6" style="left:1187px;top:654px;width:18px;height:12px"></div>
<div class="r N" style="left:1139px;top:677px;width:24px;height:15px"></div>
<div class="r G6" style="left:1167px;top:675px;width:16px;height:16px"></div>
<div class="r G1" style="left:1187px;top:670px;width:7px;height:13px"></div>
<div class="r G3" style="left:1198px;top:670px;width:7px;height:13px"></div>
<div class="r G3" style="left:1187px;top:687px;width:11px;height:4px"></div>
<div class="r G3" style="left:1202px;top:687px;width:3px;height:4px"></div>
<div class="r G1" style="left:1213px;top:602px;width:21px;height:18px"></div>
<div class="r G6" style="left:1238px;top:602px;width:15px;height:18px"></div>
<div class="r G6" style="left:1257px;top:602px;width:12px;height:20px"></div>
<div class="r G1" style="left:1273px;top:602px;width:9px;height:20px"></div>
<div class="r G6" style="left:1213px;top:624px;width:21px;height:16px"></div>
<div class="r G6" style="left:1238px;top:624px;width:15px;height:16px"></div>
<div class="r G6" style="left:1257px;top:626px;width:11px;height:14px"></div>
<div class="r R2" style="left:1272px;top:627px;width:11px;height:6px"></div>
<div class="r N" style="left:1272px;top:637px;width:8px;height:4px"></div>
<div class="r R1" style="left:1290px;top:602px;width:53px;height:39px"><div class="n" style="font-size:10.4px">قاسم</div><div class="p" style="font-size:7px;margin-top:5.2px">-۱٫۹۹ %</div></div>
<div class="r N" style="left:1347px;top:602px;width:12px;height:39px"></div>
<div class="r G6" style="left:1139px;top:712px;width:43px;height:50px"><div class="n" style="font-size:10.4px">چکاپا</div><div class="p" style="font-size:7px;margin-top:5.2px">+۵٫۸۳ %</div></div>
<div class="r G6" style="left:1186px;top:712px;width:19px;height:43px"></div>
<div class="r G6" style="left:1186px;top:759px;width:19px;height:3px"></div>
<div class="r G6" style="left:1213px;top:662px;width:39px;height:44px"><div class="n" style="font-size:10.4px">حفاری</div><div class="p" style="font-size:7px;margin-top:5.2px">+۵٫۶ %</div></div>
<div class="r R1" style="left:1256px;top:662px;width:1px;height:44px"></div>
<div class="r G6" style="left:1263px;top:662px;width:45px;height:28px"></div>
<div class="r G6" style="left:1316px;top:662px;width:43px;height:28px"></div>
<div class="r G1" style="left:1213px;top:727px;width:28px;height:17px"></div>
<div class="r G3" style="left:1245px;top:727px;width:10px;height:23px"></div>
<div class="r G6" style="left:1213px;top:748px;width:28px;height:14px"></div>
<div class="r N" style="left:1245px;top:754px;width:10px;height:8px"></div>
<div class="r G3" style="left:1263px;top:711px;width:27px;height:16px"></div>
<div class="r G3" style="left:1294px;top:711px;width:10px;height:16px"></div>
<div class="r G3" style="left:1312px;top:711px;width:17px;height:16px"></div>
<div class="r N" style="left:1341px;top:711px;width:19px;height:16px"></div>
<div class="r G6" style="left:1263px;top:748px;width:41px;height:13px"></div>
<div class="r N" style="left:1312px;top:748px;width:13px;height:10px"></div>
<div class="r N" style="left:1312px;top:762px;width:13px;height:1px"></div>
</body></html>
